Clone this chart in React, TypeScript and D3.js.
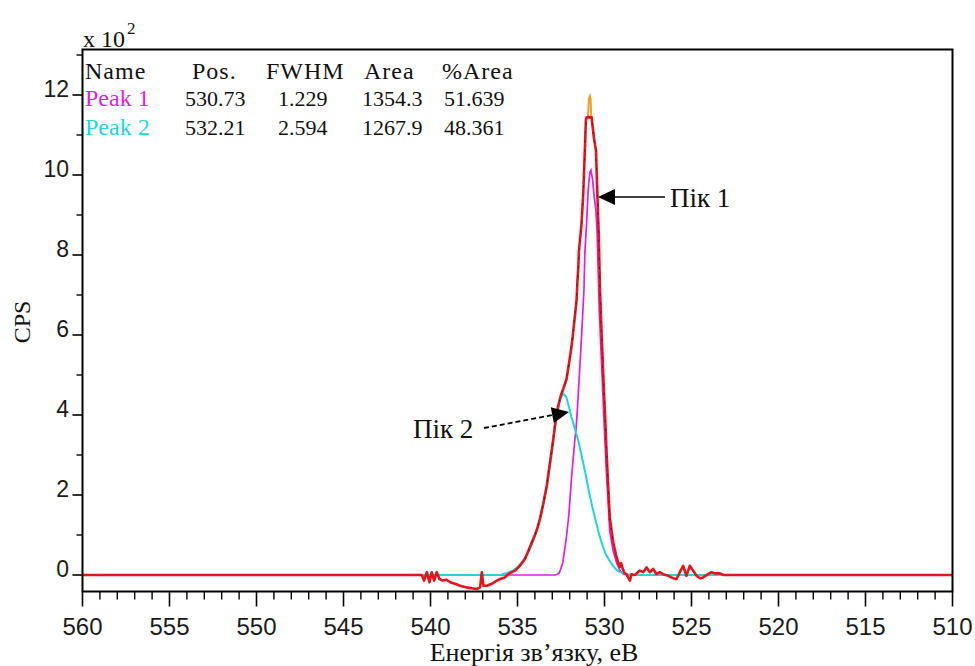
import React from "react";
import * as d3 from "d3";

// ---------- data (CPS in units of 10^2, energy in eV) ----------
const xMajorTicks = [560, 555, 550, 545, 540, 535, 530, 525, 520, 515, 510];
const yMajorTicks = [0, 2, 4, 6, 8, 10, 12];

const legendHeader = ["Name", "Pos.", "FWHM", "Area", "%Area"];
const peakNames = ["Peak 1", "Peak 2"];
const peakPos = ["530.73", "532.21"];
const peakFwhm = ["1.229", "2.594"];
const peakArea = ["1354.3", "1267.9"];
const peakPct = ["51.639", "48.361"];

// measured spectrum / envelope (red)
const spectrumE = [
  560, 540.6, 540.5, 540.37, 540.21, 540.06, 539.93, 539.79, 539.64, 539.49, 539.3, 539.07,
  538.87, 538.59, 538.3, 537.92, 537.63, 537.34, 537.15, 537.05, 536.96, 536.77, 536.48,
  536.19, 536.0, 535.72, 535.53, 535.33, 535.14, 534.86, 534.57, 534.38, 534.19, 534.0,
  533.9, 533.71, 533.52, 533.32, 533.13, 532.94, 532.85, 532.75, 532.66, 532.5, 532.37,
  532.18, 532.0, 531.89, 531.8, 531.7, 531.6, 531.56, 531.51, 531.47, 531.32, 531.22,
  531.13, 531.07, 531.03, 530.9, 530.74, 530.68, 530.61, 530.49, 530.4, 530.33, 530.26,
  530.17, 530.07, 529.98, 529.88, 529.79, 529.69, 529.5, 529.31, 529.2, 529.12, 529.05,
  528.95, 528.85, 528.74, 528.54, 528.45, 528.26, 527.97, 527.78, 527.58, 527.39, 527.2,
  527.01, 526.82, 526.63, 526.34, 526.06, 525.86, 525.67, 525.48, 525.29, 525.1, 524.91,
  524.71, 524.52, 524.33, 524.05, 523.85, 523.66, 523.38, 523.15, 510,
];
const spectrumCps = [
  0, 0, 0, -0.14, 0.07, -0.18, 0.07, -0.14, 0.07, -0.1, -0.14, -0.12,
  -0.18, -0.22, -0.27, -0.31, -0.33, -0.35, -0.31, 0.07, -0.27, -0.27, -0.22,
  -0.14, -0.1, -0.06, 0.02, 0.07, 0.11, 0.23, 0.4, 0.6, 0.8, 1.0,
  1.11, 1.4, 1.78, 2.23, 2.82, 3.4, 3.73, 3.95, 4.23, 4.5, 4.65,
  4.9, 5.4, 5.73, 6.07, 6.48, 6.9, 7.32, 7.65, 8.1, 8.78, 9.55,
  10.61, 11.36, 11.44, 11.44, 11.44, 11.2, 10.94, 10.61, 9.4, 8.5, 7.15,
  6.07, 4.98, 4.1, 3.07, 2.23, 1.4, 0.82, 0.45, 0.3, 0.2, 0.3,
  0.15, 0.05, 0.02, -0.14, 0.02, 0.0, 0.11, 0.07, 0.19, 0.07, 0.15,
  0.02, 0.07, 0.02, -0.02, -0.08, -0.1, 0.07, 0.23, -0.02, 0.23, 0.11,
  -0.02, -0.08, -0.06, 0.02, 0.07, 0.04, 0.04, 0, 0,
];

// apex of the raw counts (orange)
const apexE = [530.95, 530.9, 530.84, 530.8, 530.76];
const apexCps = [11.44, 11.9, 11.97, 11.9, 11.44];

// Peak 1 component (magenta)
const peak1E = [
  540.5, 532.8, 532.6, 532.4, 532.2, 532.05, 531.9, 531.8, 531.7, 531.64, 531.56, 531.45,
  531.35, 531.26, 531.18, 531.13, 531.03, 530.94, 530.84, 530.78, 530.68, 530.61, 530.49,
  530.42, 530.3, 530.2, 530.1, 530.0, 529.9, 529.8, 529.7, 529.5, 529.3, 529.1, 528.9,
  528.7, 523.2,
];
const peak1Cps = [
  0, 0, 0.05, 0.3, 0.9, 1.5, 2.4, 2.9, 3.4, 3.63, 4.13, 4.96,
  5.71, 6.46, 7.13, 8.05, 8.78, 9.61, 10.07, 10.12, 9.87, 9.53, 9.11,
  8.53, 6.6, 5.6, 4.6, 3.6, 2.65, 1.9, 1.1, 0.6, 0.3, 0.1, 0.02,
  0, 0,
];

// Peak 2 component (cyan)
const peak2E = [
  540.5, 536.0, 535.6, 535.3, 535.0, 534.75, 534.5, 534.3, 534.1, 533.9, 533.7, 533.5,
  533.3, 533.1, 532.95, 532.8, 532.65, 532.5, 532.35, 532.2, 532.05, 531.9, 531.7, 531.5,
  531.3, 531.1, 530.9, 530.7, 530.5, 530.3, 530.1, 529.9, 529.7, 529.5, 529.3, 529.1,
  528.9, 528.5, 523.2,
];
const peak2Cps = [
  0, 0, 0.05, 0.1, 0.2, 0.32, 0.47, 0.64, 0.85, 1.1, 1.4, 1.8,
  2.25, 2.85, 3.4, 3.85, 4.2, 4.45, 4.53, 4.45, 4.22, 3.95, 3.65, 3.35,
  2.95, 2.55, 2.1, 1.7, 1.35, 1.0, 0.72, 0.5, 0.35, 0.23, 0.12, 0.07,
  0.04, 0, 0,
];

// ---------- component ----------
const W = 975;
const H = 666;
const L = 82.5;
const R = 952.5;
const T = 49.5;
const B = 591.5;

const RED = "#e8131b";
const MAGENTA = "#e21ee2";
const CYAN = "#1fd6dc";

const zip = (e: number[], v: number[]) => e.map((d, i) => [d, v[i]] as [number, number]);

export default function App() {
  const x = d3.scaleLinear().domain([560, 510]).range([L, R]);
  const y = d3.scaleLinear().domain([0, 12]).range([575, 95]);
  const line = d3
    .line<[number, number]>()
    .x((d) => x(d[0]))
    .y((d) => y(d[1]));

  const xMinor = d3.range(560, 509.5, -1).filter((v) => !xMajorTicks.includes(v));
  const yMinor = d3.range(1, 14, 2);

  const sans = "'Liberation Sans', Arial, sans-serif";
  const serif = "'Liberation Serif', 'Times New Roman', serif";

  const headX = [85, 192, 266, 364, 442];
  const cellX = [85, 185, 278, 362, 444];
  const rowY = [79, 106, 135];

  const spectrumPts = zip(spectrumE, spectrumCps);
  const rawPts = spectrumPts.filter((d) => d[0] <= 534.6 && d[0] >= 529.5);

  // arrows
  const a1Tip = [598, 197];
  const a2Start = [484, 428];
  const a2Tip = [569, 412];
  const ang = Math.atan2(a2Tip[1] - a2Start[1], a2Tip[0] - a2Start[0]);
  const hl = 17;
  const hw = 8;
  const bx = a2Tip[0] - hl * Math.cos(ang);
  const by = a2Tip[1] - hl * Math.sin(ang);
  const head2 = [
    [a2Tip[0], a2Tip[1]],
    [bx + hw * Math.sin(ang), by - hw * Math.cos(ang)],
    [bx - hw * Math.sin(ang), by + hw * Math.cos(ang)],
  ];

  return (
    <svg
      width={W}
      height={H}
      style={{ position: "absolute", left: 0, top: 0, background: "#fff" }}
    >
      <rect x={0} y={0} width={W} height={H} fill="#fff" />

      {/* curves */}
      <path d={line(zip(peak1E, peak1Cps)) || ""} fill="none" stroke={MAGENTA} strokeWidth={1.7} />
      <path d={line(zip(peak2E, peak2Cps)) || ""} fill="none" stroke={CYAN} strokeWidth={2} />
      <path d={line(zip(apexE, apexCps)) || ""} fill="none" stroke="#f0a020" strokeWidth={2} />
      <path d={line(spectrumPts) || ""} fill="none" stroke={RED} strokeWidth={2.6} strokeLinejoin="round" />
      <path
        d={line(rawPts) || ""}
        fill="none"
        stroke="#222"
        strokeWidth={1}
        strokeDasharray="2 7"
        opacity={0.75}
      />

      {/* frame */}
      <rect x={L} y={T} width={R - L} height={B - T} fill="none" stroke="#000" strokeWidth={2} />

      {/* x ticks */}
      {xMajorTicks.map((v) => (
        <g key={"xm" + v}>
          <line x1={x(v)} x2={x(v)} y1={B} y2={B + 15} stroke="#000" strokeWidth={1.6} />
          <text x={x(v)} y={635} textAnchor="middle" fontFamily={sans} fontSize={24} fill="#1a1a1a">
            {v}
          </text>
        </g>
      ))}
      {xMinor.map((v) => (
        <line key={"xn" + v} x1={x(v)} x2={x(v)} y1={B} y2={B + 8} stroke="#000" strokeWidth={1.4} />
      ))}

      {/* y ticks */}
      {yMajorTicks.map((v) => (
        <g key={"ym" + v}>
          <line x1={L - 10} x2={L} y1={y(v)} y2={y(v)} stroke="#000" strokeWidth={1.6} />
          <text x={69} y={y(v) + 2} textAnchor="end" fontFamily={sans} fontSize={23} fill="#1a1a1a">
            {v}
          </text>
        </g>
      ))}
      {yMinor.map((v) => (
        <line key={"yn" + v} x1={L - 6} x2={L} y1={y(v)} y2={y(v)} stroke="#000" strokeWidth={1.4} />
      ))}

      {/* multiplier */}
      <text x={83} y={47} fontFamily={serif} fontSize={24} fill="#111">
        x 10
      </text>
      <text x={127} y={34} fontFamily={serif} fontSize={17} fill="#111">
        2
      </text>

      {/* axis titles */}
      <text
        transform="translate(30,322) rotate(-90)"
        textAnchor="middle"
        fontFamily={serif}
        fontSize={24}
        fill="#111"
      >
        CPS
      </text>
      <text x={534} y={661} textAnchor="middle" fontFamily={serif} fontSize={26} fill="#111">
        Енергія зв’язку, еВ
      </text>

      {/* legend table */}
      {legendHeader.map((h, i) => (
        <text
          key={"h" + i}
          x={headX[i]}
          y={rowY[0]}
          fontFamily={serif}
          fontSize={24}
          letterSpacing={1}
          fill="#111"
        >
          {h}
        </text>
      ))}
      {peakNames.map((n, r) => {
        const cells = [n, peakPos[r], peakFwhm[r], peakArea[r], peakPct[r]];
        return cells.map((c, i) => (
          <text
            key={"c" + r + "-" + i}
            x={cellX[i]}
            y={rowY[r + 1]}
            fontFamily={serif}
            fontSize={i === 0 ? 24 : 22}
            fill={i === 0 ? (r === 0 ? MAGENTA : CYAN) : "#111"}
          >
            {c}
          </text>
        ));
      })}

      {/* annotation: Пік 1 */}
      <line x1={a1Tip[0] + 14} y1={a1Tip[1]} x2={665} y2={a1Tip[1]} stroke="#000" strokeWidth={1.6} />
      <polygon
        points={`${a1Tip[0]},${a1Tip[1]} ${a1Tip[0] + 17},${a1Tip[1] - 8} ${a1Tip[0] + 17},${a1Tip[1] + 8}`}
        fill="#000"
      />
      <text x={670} y={207} fontFamily={serif} fontSize={27} fill="#111">
        Пік 1
      </text>

      {/* annotation: Пік 2 */}
      <line
        x1={a2Start[0]}
        y1={a2Start[1]}
        x2={bx}
        y2={by}
        stroke="#000"
        strokeWidth={1.8}
        strokeDasharray="5 3"
      />
      <polygon points={head2.map((p) => p.join(",")).join(" ")} fill="#000" />
      <text x={413} y={438} fontFamily={serif} fontSize={27} fill="#111">
        Пік 2
      </text>
    </svg>
  );
}
